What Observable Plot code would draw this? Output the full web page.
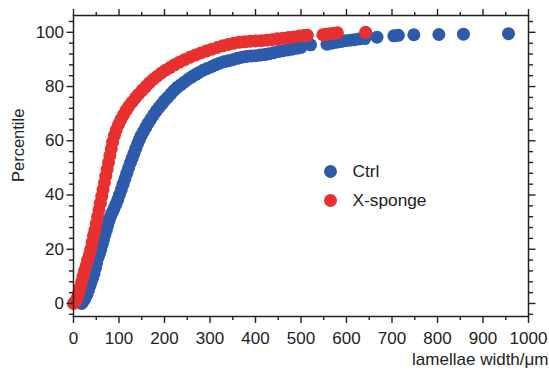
<!DOCTYPE html>
<html>
<head>
<meta charset="utf-8">
<script src="https://cdn.jsdelivr.net/npm/d3@7"></script>
<script src="https://cdn.jsdelivr.net/npm/@observablehq/plot@0.6"></script>
<style>
  html, body { margin: 0; padding: 0; background: #fff; }
  #wrap { position: relative; width: 549px; height: 374px; font-family: "Liberation Sans", Arial, sans-serif; }
  #legend { position: absolute; left: 323.5px; top: 157px; }
  .row { display: flex; align-items: center; height: 29px; font-size: 17.3px; color: #222; }
  .sw { width: 13px; height: 13px; border-radius: 50%; margin-right: 16px; }
</style>
</head>
<body>
<div id="wrap"><div id="legend"></div></div>
<script>
// ---- data ----
const seriesNames = ["Ctrl", "X-sponge"];
const seriesColors = ["#2d5bab", "#e8302f"];

const ctrlWidth = [18,21,24,27,30,33,36,39,42,45,48,51,54,57,60,63,66,69,72,75,78,81,85,89,93,97,101,105,109,113,117,121,125,129,133,137,141,145,149,154,159,164,170,176,182,188,194,200,207,214,221,228,236,244,252,260,268,276,285,294,303,312,321,330,340,350,360,370,380,390,400,410,420,430,440,450,460,470,480,490,500,521,557,567,577,587,597,607,617,627,640,667,704,714,748,803,857,956];
const ctrlPct = [0,0.8,1.5,2.5,3.5,5,6.5,8,9.5,11,13,15,17,18.5,20,21.8,23.5,25.3,27,28.8,30.5,32,33.5,35,36.6,38.2,40,42,44,46,48,50,51.8,53.6,55.4,57.2,59,60.5,62,63.5,65,66.5,68,69.6,71,72.3,73.5,74.8,76,77.3,78.6,79.7,80.7,81.7,82.7,83.6,84.4,85.2,86,86.7,87.3,88,88.6,89.1,89.5,89.9,90.4,90.8,91.1,91.3,91.4,91.6,91.8,92.1,92.5,92.9,93.2,93.5,93.8,94.1,94.4,95.4,95.6,96,96.3,96.6,96.9,97.1,97.3,97.5,97.7,98.2,98.7,98.9,99.1,99.2,99.3,99.5];

const spongeWidth = [0,3,6,9,12,15,18,21,24,28,31,35,38,41,44,47,50,53,56,59,62,65,68,71,74,77,80,83,86,90,94,99,104,110,116,122,129,136,143,151,159,167,175,184,193,202,212,222,233,244,256,268,280,292,304,316,328,340,352,364,376,388,400,412,424,436,448,460,472,484,496,506,514,548,556,564,572,580,642];
const spongePct = [0,0.5,1,2.5,4,6,8,10,12,14,16,18,20,22.5,25,27,29.5,32,34.5,37,39.5,42,44.5,47,49.5,52,54.5,57,59.5,62,64,66,67.8,69.6,71.3,72.8,74.3,75.8,77.2,78.6,80,81.4,82.6,83.8,85,86,87,88,89,89.9,90.8,91.6,92.4,93.1,93.8,94.4,95,95.5,96,96.3,96.5,96.7,96.8,96.9,97.1,97.3,97.6,97.8,98.1,98.3,98.6,98.8,98.9,99.1,99.3,99.5,99.7,99.8,100];

const xMajor = [0,100,200,300,400,500,600,700,800,900,1000];
const xMinor = [50,150,250,350,450,550,650,750,850,950];
const yMajor = [0,20,40,60,80,100];
const yMinor = [-4,4,8,12,16,24,28,32,36,44,48,52,56,64,68,72,76,84,88,92,96,104];

const xTitle = "lamellae width/μm";
const yTitle = "Percentile";

// ---- build tables ----
const ctrl = ctrlWidth.map((w, i) => ({w, p: ctrlPct[i]}));
const sponge = spongeWidth.map((w, i) => ({w, p: spongePct[i]}));

const font = "Liberation Sans, Arial, sans-serif";
const ink = "#222";

const chart = Plot.plot({
  width: 549,
  height: 374,
  marginLeft: 73,
  marginRight: 21,
  marginTop: 15,
  marginBottom: 58,
  x: {domain: [0, 1000], label: null},
  y: {domain: [-4.8, 106.2], label: null},
  style: {fontFamily: font, color: ink, background: "white", overflow: "visible"},
  marks: [
    Plot.dot(ctrl, {x: "w", y: "p", r: 6.5, fill: seriesColors[0]}),
    Plot.dot(sponge, {x: "w", y: "p", r: 6.5, fill: seriesColors[1]}),
    Plot.frame({stroke: ink, strokeWidth: 1.5}),
    Plot.axisX({anchor: "bottom", ticks: xMajor, tickSize: 7, tickPadding: 8, fontSize: 17, strokeWidth: 1.4, tickFormat: d => String(d), label: null}),
    Plot.axisX({anchor: "bottom", ticks: xMinor, tickSize: 4, strokeWidth: 1.4, text: null, label: null}),
    Plot.axisX({anchor: "top", ticks: xMajor, tickSize: 7, strokeWidth: 1.4, text: null, label: null}),
    Plot.axisX({anchor: "top", ticks: xMinor, tickSize: 4, strokeWidth: 1.4, text: null, label: null}),
    Plot.axisY({anchor: "left", ticks: yMajor, tickSize: 6.5, tickPadding: 3, fontSize: 17, strokeWidth: 1.4, tickFormat: d => String(d), label: null}),
    Plot.axisY({anchor: "left", ticks: yMinor, tickSize: 4, strokeWidth: 1.4, text: null, label: null}),
    Plot.axisY({anchor: "right", ticks: yMajor, tickSize: 6.5, strokeWidth: 1.4, text: null, label: null}),
    Plot.axisY({anchor: "right", ticks: yMinor, tickSize: 4, strokeWidth: 1.4, text: null, label: null}),
    Plot.text([xTitle], {text: d => d, frameAnchor: "bottom-right", textAnchor: "end", dx: 20, dy: 48, fontSize: 17, fill: ink}),
    Plot.text([yTitle], {text: d => d, frameAnchor: "left", rotate: -90, dx: -55, dy: 16, fontSize: 16.5, fill: ink})
  ]
});

const wrap = document.getElementById("wrap");
wrap.insertBefore(chart, wrap.firstChild);

const legend = document.getElementById("legend");
seriesNames.forEach((name, i) => {
  const row = document.createElement("div");
  row.className = "row";
  const sw = document.createElement("span");
  sw.className = "sw";
  sw.style.background = seriesColors[i];
  const t = document.createElement("span");
  t.textContent = name;
  row.appendChild(sw);
  row.appendChild(t);
  legend.appendChild(row);
});
</script>
</body>
</html>
